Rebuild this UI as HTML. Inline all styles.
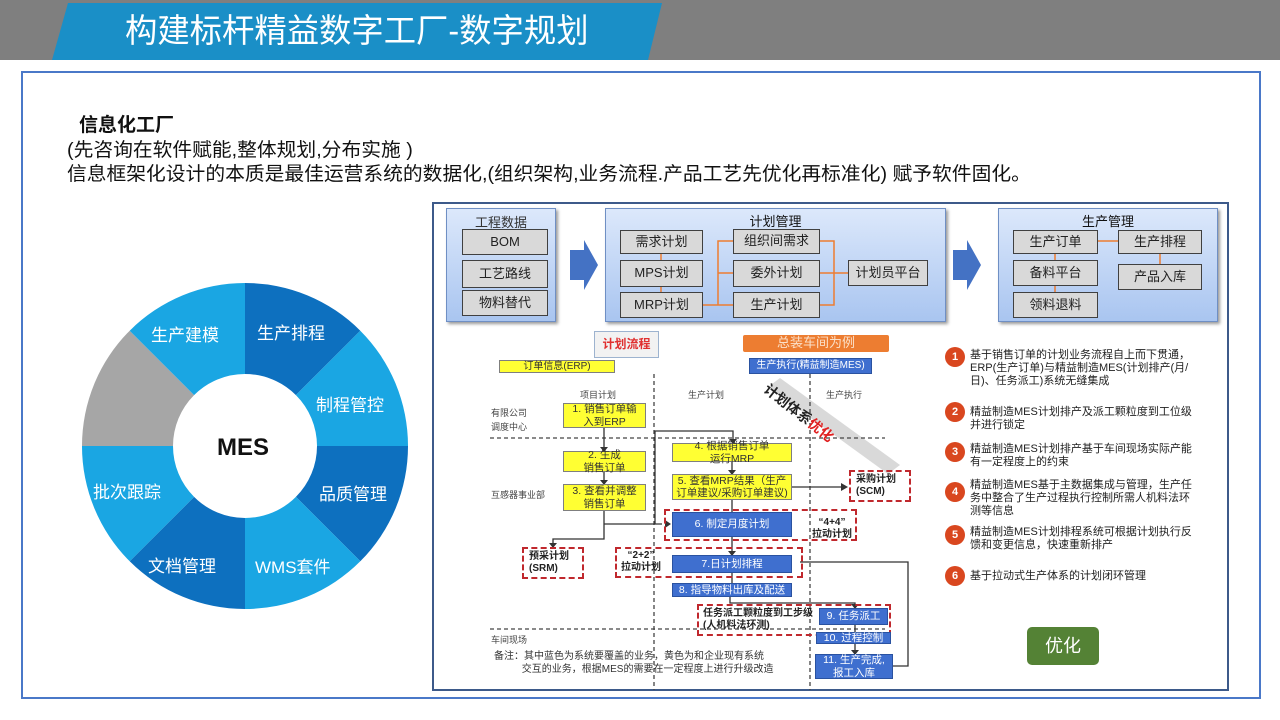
<!DOCTYPE html>
<html><head><meta charset="utf-8"><style>
*{margin:0;padding:0;box-sizing:border-box}
body{width:1280px;height:720px;background:#fff;position:relative;overflow:hidden;font-family:"Liberation Sans","Noto Sans CJK SC",sans-serif}
.a{position:absolute}
.bx{position:absolute;display:flex;align-items:center;justify-content:center;text-align:center;line-height:1.15}
.g{background:#d9d9d9;border:1px solid #404040;font-size:13px;color:#222}
.y{background:#ffff33;border:1px solid #7f7f7f;font-size:10.5px;color:#333}
.b{background:#3f6fcf;border:1px solid #2a52a0;font-size:10.5px;color:#fff}
.rd{position:absolute;border:2px dashed #c0282d}
.pn{position:absolute;background:linear-gradient(#dce8fb,#a9c5f0);border:1px solid #6f8fc4;box-shadow:2px 2px 3px #999}
.num{position:absolute;width:20px;height:20px;border-radius:50%;background:#d9471f;color:#fff;font-size:11px;font-weight:bold;display:flex;align-items:center;justify-content:center}
.li{position:absolute;left:970px;font-size:11px;line-height:13px;color:#222;width:228px}
.sm{position:absolute;font-size:9px;color:#444}
</style></head><body>
<div class="a" style="left:0;top:0;width:1280px;height:60px;background:#7f7f7f"></div>
<svg class="a" style="left:0;top:0" width="700" height="62"><polygon points="68,3 662,3 648,60 52,60" fill="#1a8fc7"/></svg>
<div class="a" style="left:125px;top:8px;font-size:33px;color:#fff;line-height:46px;transform:scaleX(0.98);transform-origin:left">构建标杆精益数字工厂-数字规划</div>
<div class="a" style="left:21px;top:71px;width:1240px;height:628px;border:2px solid #4a78c8"></div>
<div class="a" style="left:79px;top:110px;font-size:19px;font-weight:bold;color:#111">信息化工厂</div>
<div class="a" style="left:67px;top:139px;font-size:19px;color:#111;line-height:24px;white-space:nowrap;transform:scaleX(1.04);transform-origin:left">(先咨询在软件赋能,整体规划,分布实施 )<br>信息框架化设计的本质是最佳运营系统的数据化,(组织架构,业务流程.产品工艺先优化再标准化) 赋予软件固化。</div>

<svg class="a" style="left:0;top:0" width="430" height="720">
<g transform="translate(245,446)">
<path d="M-163,0 A163,163 0 0 1 -115.3,-115.3 L-50.9,-50.9 A72,72 0 0 0 -72,0Z" fill="#a6a6a6"/>
<path d="M-115.3,-115.3 A163,163 0 0 1 0,-163 L0,-72 A72,72 0 0 0 -50.9,-50.9Z" fill="#1aa6e3"/>
<path d="M0,-163 A163,163 0 0 1 115.3,-115.3 L50.9,-50.9 A72,72 0 0 0 0,-72Z" fill="#0d70bf"/>
<path d="M115.3,-115.3 A163,163 0 0 1 163,0 L72,0 A72,72 0 0 0 50.9,-50.9Z" fill="#1aa6e3"/>
<path d="M163,0 A163,163 0 0 1 115.3,115.3 L50.9,50.9 A72,72 0 0 0 72,0Z" fill="#0d70bf"/>
<path d="M115.3,115.3 A163,163 0 0 1 0,163 L0,72 A72,72 0 0 0 50.9,50.9Z" fill="#1aa6e3"/>
<path d="M0,163 A163,163 0 0 1 -115.3,115.3 L-50.9,50.9 A72,72 0 0 0 0,72Z" fill="#0d70bf"/>
<path d="M-115.3,115.3 A163,163 0 0 1 -163,0 L-72,0 A72,72 0 0 0 -50.9,50.9Z" fill="#1aa6e3"/>
<circle r="70" fill="#fff"/>
</g>
<g font-size="17" fill="#fff" font-family="Liberation Sans,Noto Sans CJK SC,sans-serif">
<text x="151" y="341">生产建模</text><text x="257" y="339">生产排程</text>
<text x="316" y="411">制程管控</text><text x="319" y="500">品质管理</text>
<text x="255" y="573">WMS套件</text><text x="148" y="572">文档管理</text>
<text x="93" y="498">批次跟踪</text></g>
<text x="217" y="455" font-size="24" font-weight="bold" fill="#111" font-family="Liberation Sans,sans-serif">MES</text>
</svg>

<div class="a" style="left:432px;top:202px;width:797px;height:489px;border:2px solid #3d5a8a"></div>
<div class="pn" style="left:446px;top:208px;width:110px;height:114px"></div>
<div class="pn" style="left:605px;top:208px;width:341px;height:114px"></div>
<div class="pn" style="left:998px;top:208px;width:220px;height:114px"></div>
<div class="a" style="left:446px;top:212px;width:110px;text-align:center;font-size:13px;color:#333">工程数据</div>
<div class="a" style="left:605px;top:211px;width:341px;text-align:center;font-size:13px;color:#111">计划管理</div>
<div class="a" style="left:998px;top:211px;width:220px;text-align:center;font-size:13px;color:#111">生产管理</div>
<svg class="a" style="left:560px;top:240px" width="430" height="50"><polygon points="10,10 24,10 24,0 38,25 24,50 24,40 10,40" fill="#4472c4"/><polygon points="393,10 407,10 407,0 421,25 407,50 407,40 393,40" fill="#4472c4"/></svg>
<div class="bx g" style="left:462px;top:229px;width:86px;height:26px">BOM</div>
<div class="bx g" style="left:462px;top:260px;width:86px;height:28px">工艺路线</div>
<div class="bx g" style="left:462px;top:290px;width:86px;height:26px">物料替代</div>
<div class="bx g" style="left:620px;top:230px;width:83px;height:24px">需求计划</div>
<div class="bx g" style="left:620px;top:260px;width:83px;height:27px">MPS计划</div>
<div class="bx g" style="left:620px;top:292px;width:83px;height:26px">MRP计划</div>
<div class="bx g" style="left:733px;top:229px;width:87px;height:25px">组织间需求</div>
<div class="bx g" style="left:733px;top:260px;width:87px;height:27px">委外计划</div>
<div class="bx g" style="left:733px;top:292px;width:87px;height:26px">生产计划</div>
<div class="bx g" style="left:848px;top:260px;width:80px;height:26px">计划员平台</div>
<div class="bx g" style="left:1013px;top:230px;width:85px;height:24px">生产订单</div>
<div class="bx g" style="left:1013px;top:260px;width:85px;height:26px">备料平台</div>
<div class="bx g" style="left:1013px;top:292px;width:85px;height:26px">领料退料</div>
<div class="bx g" style="left:1118px;top:230px;width:84px;height:24px">生产排程</div>
<div class="bx g" style="left:1118px;top:264px;width:84px;height:26px">产品入库</div>
<svg class="a" style="left:0;top:0" width="1280" height="720" fill="none" stroke="#ed7d31" stroke-width="1.5">
<path d="M661,254v6M661,287v5M703,305h15V241h15M718,273h15M718,305h15M848,273h-28M834,273V241h-14M834,273v32h-14M1055,254v6M1055,286v6M1098,241h20M1160,254v10"/>
</svg>

<div class="bx" style="left:594px;top:331px;width:65px;height:27px;border:1px solid #9db3cf;background:#f2f2f2;color:#e03030;font-weight:bold;font-size:12px">计划流程</div>
<div class="bx" style="left:743px;top:335px;width:146px;height:17px;background:#ed7d31;color:#fbe0c8;font-size:13px;border-radius:2px">总装车间为例</div>
<div class="bx y" style="left:499px;top:360px;width:116px;height:13px;font-size:10px">订单信息(ERP)</div>
<div class="bx b" style="left:749px;top:358px;width:123px;height:16px;font-size:10px">生产执行(精益制造MES)</div>
<svg class="a" style="left:0;top:0" width="1280" height="720">
<polygon points="768,387 780,378 900,465 888,474" fill="#d0d0d0" opacity="0.8"/>
<g stroke="#444" stroke-dasharray="4,3" stroke-width="1.3"><path d="M654,374V690M810,374V690M490,438H885M490,629H885"/></g>
<g stroke="#333" stroke-width="1.3" fill="none">
<path d="M604,428V451M604,472V484M604,511V524H657M604,524H662M655,524V431H733V443M732,462V474M732,500V512M792,487H845M732,537V555M732,573V583M730,597V603H855V608M855,625V632M855,643V654M893,666H908V562H800M604,524V539H553V547"/>
</g>
<g fill="#333"><path d="M600,447l4,5l4,-5zM600,480l4,5l4,-5zM729,439l4,5l4,-5zM728,470l4,5l4,-5zM665,520l6,4l-6,4zM841,483l7,4l-7,4zM728,551l4,5l4,-5zM549,543l4,5l4,-5zM851,604l4,5l4,-5zM851,650l4,5l4,-5z"/></g>
</svg>
<div class="a" style="left:772px;top:379px;transform:rotate(38deg);transform-origin:left top;font-size:14px;color:#222;font-weight:bold;white-space:nowrap">计划体系<span style="color:#e02020">优化</span></div>
<div class="sm" style="left:580px;top:388px">项目计划</div>
<div class="sm" style="left:688px;top:388px">生产计划</div>
<div class="sm" style="left:826px;top:388px">生产执行</div>
<div class="sm" style="left:491px;top:406px;line-height:14px">有限公司<br>调度中心</div>
<div class="sm" style="left:491px;top:488px">互感器事业部</div>
<div class="sm" style="left:491px;top:633px">车间现场</div>
<div class="bx y" style="left:563px;top:403px;width:83px;height:25px">1. 销售订单输<br>入到ERP</div>
<div class="bx y" style="left:563px;top:451px;width:83px;height:21px">2. 生成<br>销售订单</div>
<div class="bx y" style="left:563px;top:484px;width:83px;height:27px">3. 查看并调整<br>销售订单</div>
<div class="bx y" style="left:672px;top:443px;width:120px;height:19px">4. 根据销售订单<br>运行MRP</div>
<div class="bx y" style="left:672px;top:474px;width:120px;height:26px">5. 查看MRP结果（生产<br>订单建议/采购订单建议)</div>
<div class="rd" style="left:664px;top:509px;width:193px;height:32px"></div>
<div class="bx b" style="left:672px;top:512px;width:120px;height:25px">6. 制定月度计划</div>
<div class="a" style="left:812px;top:517px;font-size:10px;font-weight:bold;color:#222;line-height:12px;text-align:center">“4+4”<br>拉动计划</div>
<div class="rd" style="left:615px;top:547px;width:188px;height:31px"></div>
<div class="a" style="left:621px;top:550px;font-size:10px;font-weight:bold;color:#222;line-height:12px;text-align:center">“2+2”<br>拉动计划</div>
<div class="bx b" style="left:672px;top:555px;width:120px;height:18px">7.日计划排程</div>
<div class="bx b" style="left:672px;top:583px;width:120px;height:14px">8. 指导物料出库及配送</div>
<div class="rd" style="left:697px;top:604px;width:194px;height:32px"></div>
<div class="a" style="left:703px;top:608px;font-size:10px;font-weight:bold;color:#222;line-height:12px">任务派工颗粒度到工步级<br>(人机料法环测)</div>
<div class="bx b" style="left:819px;top:608px;width:69px;height:17px">9. 任务派工</div>
<div class="bx b" style="left:816px;top:632px;width:75px;height:12px">10. 过程控制</div>
<div class="bx b" style="left:815px;top:654px;width:78px;height:25px">11. 生产完成,<br>报工入库</div>
<div class="rd" style="left:849px;top:470px;width:62px;height:32px"></div>
<div class="a" style="left:856px;top:474px;font-size:10px;font-weight:bold;color:#222;line-height:12px">采购计划<br>(SCM)</div>
<div class="rd" style="left:522px;top:547px;width:62px;height:32px"></div>
<div class="a" style="left:529px;top:551px;font-size:10px;font-weight:bold;color:#222;line-height:12px">预采计划<br>(SRM)</div>
<div class="a" style="left:494px;top:650px;font-size:10px;color:#333;line-height:13px">备注：其中蓝色为系统要覆盖的业务，黄色为和企业现有系统<br>&nbsp;&nbsp;&nbsp;&nbsp;&nbsp;&nbsp;&nbsp;&nbsp;&nbsp;&nbsp;交互的业务，根据MES的需要在一定程度上进行升级改造</div>

<div class="num" style="left:945px;top:347px">1</div>
<div class="li" style="top:349px">基于销售订单的计划业务流程自上而下贯通，ERP(生产订单)与精益制造MES(计划排产(月/日)、任务派工)系统无缝集成</div>
<div class="num" style="left:945px;top:402px">2</div>
<div class="li" style="top:406px">精益制造MES计划排产及派工颗粒度到工位级并进行锁定</div>
<div class="num" style="left:945px;top:442px">3</div>
<div class="li" style="top:443px">精益制造MES计划排产基于车间现场实际产能有一定程度上的约束</div>
<div class="num" style="left:945px;top:482px">4</div>
<div class="li" style="top:479px">精益制造MES基于主数据集成与管理，生产任务中整合了生产过程执行控制所需人机料法环测等信息</div>
<div class="num" style="left:945px;top:525px">5</div>
<div class="li" style="top:526px">精益制造MES计划排程系统可根据计划执行反馈和变更信息，快速重新排产</div>
<div class="num" style="left:945px;top:566px">6</div>
<div class="li" style="top:570px">基于拉动式生产体系的计划闭环管理</div>
<div class="bx" style="left:1027px;top:627px;width:72px;height:38px;background:#548235;color:#fff;font-size:18px;border-radius:5px">优化</div>
</body></html>
